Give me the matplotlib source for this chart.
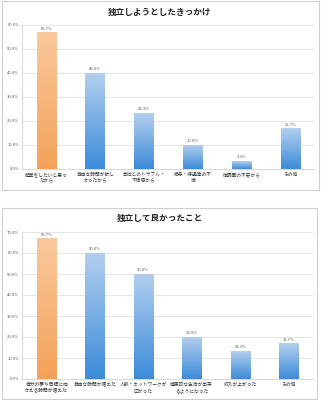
import numpy as np
import matplotlib
matplotlib.use("Agg")
import matplotlib.pyplot as plt
from matplotlib.patches import Rectangle
from matplotlib.colors import LinearSegmentedColormap

plt.rcParams['font.family'] = ['Noto Sans CJK JP', 'DejaVu Sans']

# --- data ---
title_top = "独立しようとしたきっかけ"
cats_top = ["起業をしたいと思っ\nたから", "自由な時間が欲し\nかったから",
            "会社とのトラブル・\n不信感から", "給与・待遇等の不\n満",
            "体調面の不安から", "その他"]
vals_top = [56.7, 40.0, 23.3, 10.0, 3.3, 16.7]
yticks_top = [0, 10, 20, 30, 40, 50, 60]

title_bot = "独立して良かったこと"
cats_bot = ["自分の夢や目標に向\nかえる時間が増えた", "自由な時間が増えた",
            "人脈・ネットワークが\n広がった", "健康的な生活が出来\nるようになった",
            "収入が上がった", "その他"]
vals_bot = [66.7, 60.0, 50.0, 20.0, 13.3, 16.7]
yticks_bot = [0, 10, 20, 30, 40, 50, 60, 70]

W, H = 322, 400
fig = plt.figure(figsize=(W / 100, H / 100), dpi=100)
fig.patch.set_facecolor("white")

orange = LinearSegmentedColormap.from_list("o", ["#F4A25A", "#F9C89C"])
blue = LinearSegmentedColormap.from_list("b", ["#3C8BD9", "#B3CFEE"])
grad = np.linspace(0, 1, 256).reshape(-1, 1)


def box(x0, y0, x1, y1):
    fig.patches.append(Rectangle((x0 / W, 1 - y1 / H), (x1 - x0) / W, (y1 - y0) / H,
                                 transform=fig.transFigure, fill=False,
                                 edgecolor="#cfcfcf", linewidth=0.8))


def panel(px_left, px_right, px_top, px_bottom, cats, vals, yticks, title, title_y):
    ax = fig.add_axes([px_left / W, 1 - px_bottom / H,
                       (px_right - px_left) / W, (px_bottom - px_top) / H])
    x = np.arange(len(cats))
    bars = ax.bar(x, vals, width=0.4, color="none", zorder=2)
    for i, b in enumerate(bars):
        cmap = orange if i == 0 else blue
        ax.imshow(grad, cmap=cmap, origin="lower", aspect="auto", zorder=2,
                  extent=[b.get_x(), b.get_x() + b.get_width(), 0, b.get_height()])
        ax.text(b.get_x() + b.get_width() / 2, b.get_height() + yticks[-1] * 0.012,
                f"{vals[i]:.1f}%", ha="center", va="bottom", fontsize=3.0,
                color="#555555")
    ax.set_xlim(-0.5, len(cats) - 0.5)
    ax.set_ylim(yticks[0], yticks[-1])
    ax.set_yticks(yticks)
    ax.set_yticklabels([f"{t:.1f}%" for t in yticks], fontsize=3.0, color="#555555")
    ax.set_xticks(x)
    ax.set_xticklabels(cats, fontsize=3.4, color="#333333", linespacing=1.4,
                       va="top")
    ax.tick_params(length=0, pad=2)
    ax.grid(axis="y", color="#d9d9d9", linewidth=0.5, zorder=0)
    ax.set_axisbelow(True)
    for s in ("top", "right"):
        ax.spines[s].set_visible(False)
    for s in ("left", "bottom"):
        ax.spines[s].set_color("#c8c8c8")
        ax.spines[s].set_linewidth(0.5)
    fig.text(160 / W, 1 - title_y / H, title,
             ha="center", va="center", fontsize=6.2, fontweight="bold", color="#222222")
    return ax


box(2, 1, 319, 190)
box(2, 208, 317, 399)
panel(22, 315, 25, 169, cats_top, vals_top, yticks_top, title_top, 12)
panel(22, 313, 232, 379, cats_bot, vals_bot, yticks_bot, title_bot, 218)

fig.savefig("out.png", dpi=100, facecolor="white")
